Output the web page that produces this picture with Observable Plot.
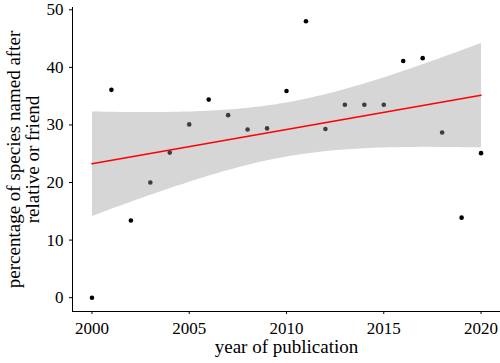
<!DOCTYPE html>
<html>
<head>
<meta charset="utf-8">
<script src="https://cdn.jsdelivr.net/npm/d3@7"></script>
<script src="https://cdn.jsdelivr.net/npm/@observablehq/plot@0.6"></script>
<style>
  body { margin: 0; background: #fff; }
  svg { font-family: "Liberation Serif", "Times New Roman", serif; }
</style>
</head>
<body>
<div id="chart"></div>
<script>
const years = [2000, 2001, 2002, 2003, 2004, 2005, 2006, 2007, 2008, 2009, 2010,
               2011, 2012, 2013, 2014, 2015, 2016, 2017, 2018, 2019, 2020];
const percents = [0, 36.1, 13.4, 20.0, 25.2, 30.1, 34.4, 31.7, 29.2, 29.4, 35.9,
                  48.0, 29.3, 33.5, 33.5, 33.5, 41.1, 41.6, 28.7, 13.9, 25.1];
const xTicks = [2000, 2005, 2010, 2015, 2020];
const yTicks = [0, 10, 20, 30, 40, 50];
const xTitle = "year of publication";
const yTitle = "percentage of species named after\nrelative or friend";

const data = years.map((year, i) => ({year, pct: percents[i]}));

const chart = Plot.plot({
  width: 500,
  height: 363,
  marginLeft: 72,
  marginRight: 0,
  marginTop: 7,
  marginBottom: 52,
  style: {fontFamily: "Liberation Serif", fontSize: "17px", background: "white", color: "black"},
  x: {domain: [1999, 2021]},
  y: {domain: [-2.4, 50.4]},
  marks: [
    Plot.axisX({ticks: xTicks, tickFormat: d => String(d), tickSize: 3, tickPadding: 7, fontSize: 17, label: null}),
    Plot.axisY({ticks: yTicks, tickSize: 3, tickPadding: 6, fontSize: 17, label: null}),
    Plot.ruleX([1999], {stroke: "black", strokeWidth: 1}),
    Plot.ruleY([-2.4], {stroke: "black", strokeWidth: 1}),
    Plot.dot(data, {x: "year", y: "pct", r: 2.3, fill: "black", stroke: null}),
    Plot.linearRegressionY(data, {x: "year", y: "pct", ci: 0.95, stroke: "red", strokeWidth: 1.5, fill: "#999999", fillOpacity: 0.4}),
    Plot.text([xTitle], {frameAnchor: "bottom", dy: 28, lineAnchor: "top", textAnchor: "middle", fontSize: 19, fill: "black"}),
    Plot.text([yTitle], {frameAnchor: "left", dx: -49, rotate: -90, textAnchor: "middle", lineAnchor: "middle", lineHeight: 0.98, fontSize: 19, fill: "black"})
  ]
});
document.getElementById("chart").appendChild(chart);
</script>
</body>
</html>
